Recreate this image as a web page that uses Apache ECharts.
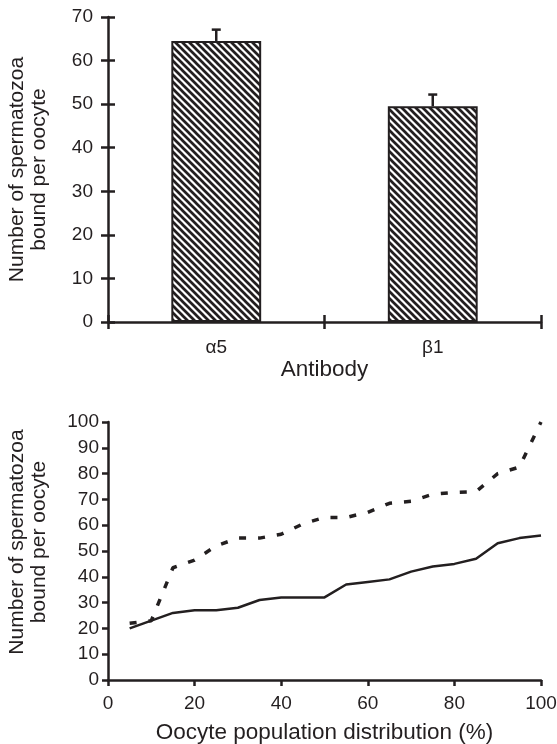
<!DOCTYPE html>
<html>
<head>
<meta charset="utf-8">
<script src="https://cdn.jsdelivr.net/npm/echarts@6/dist/echarts.min.js"></script>
<style>
html,body{margin:0;padding:0;background:#fff;}
#c{width:557px;height:744px;}
</style>
</head>
<body>
<div id="c"></div>
<script>
// ---- data ----
const barCategories = ['α5', 'β1'];
const barValues = [64.5, 49.5];
const barErrors = [2.6, 2.7];

const distPercent = [5,10,15,20,25,30,35,40,45,50,55,60,65,70,75,80,85,90,95,100];
const solidValues = [20,23,26,27,27,28,31,32,32,32,37,38,39,42,44,45,47,53,55,56];
const dashedValues = [22,23,43.5,46.5,52,55,55,56.5,60.5,63,63,65,68.5,69.3,72,72.7,73,80,82.5,100];

const topYTitle = 'Number of spermatozoa\nbound per oocyte';
const topXTitle = 'Antibody';
const botXTitle = 'Oocyte population distribution (%)';

// ---- styles ----
const INK = '#231f20';
const FONT = '"Liberation Sans", Arial, Helvetica, sans-serif';

function hatch() {
  const s = 7;
  const c = document.createElement('canvas');
  c.width = s; c.height = s;
  const g = c.getContext('2d');
  g.fillStyle = '#fff';
  g.fillRect(0, 0, s, s);
  g.strokeStyle = INK;
  g.lineWidth = 2.7;
  g.beginPath();
  for (const o of [-s, 0, s]) {
    g.moveTo(-1 + o, -1);
    g.lineTo(s + 1 + o, s + 1);
  }
  g.stroke();
  return c;
}

const chart = echarts.init(document.getElementById('c'), null, {renderer: 'canvas'});

const axisLine = {show: true, lineStyle: {color: INK, width: 2.5}};
const labelStyle = {color: INK, fontSize: 19, fontFamily: FONT};
const yNameStyle = {color: INK, fontSize: 21, fontFamily: FONT, lineHeight: 22};
const xNameStyle = {color: INK, fontSize: 22.5, fontFamily: FONT};

const option = {
  animation: false,
  backgroundColor: '#fff',
  grid: [
    {left: 108, right: 16, top: 17, height: 305, containLabel: false, outerBoundsMode: 'none'},
    {left: 108, right: 16, top: 422, height: 258, containLabel: false, outerBoundsMode: 'none'}
  ],
  xAxis: [
    {
      gridIndex: 0, type: 'category', data: barCategories, position: 'bottom',
      boundaryGap: true,
      axisLine: axisLine,
      axisTick: {show: true, length: 7, alignWithLabel: false, lineStyle: {color: INK, width: 2.5}},
      axisLabel: Object.assign({margin: 16}, labelStyle),
      splitLine: {show: false},
      name: topXTitle, nameLocation: 'middle', nameGap: 34,
      nameTextStyle: xNameStyle
    },
    {
      gridIndex: 0, type: 'category', data: barCategories, position: 'bottom',
      boundaryGap: true,
      axisLine: {show: false},
      axisTick: {show: true, inside: true, length: 7, alignWithLabel: false, lineStyle: {color: INK, width: 2.5}},
      axisLabel: {show: false},
      splitLine: {show: false}
    },
    {
      gridIndex: 1, type: 'value', min: 0, max: 100, interval: 20, position: 'bottom',
      axisLine: axisLine,
      axisTick: {show: true, length: 6, lineStyle: {color: INK, width: 2.5}},
      axisLabel: Object.assign({margin: 14}, labelStyle),
      splitLine: {show: false},
      name: botXTitle, nameLocation: 'middle', nameGap: 41,
      nameTextStyle: xNameStyle
    }
  ],
  yAxis: [
    {
      gridIndex: 0, type: 'value', min: 0, max: 70, interval: 10, position: 'left',
      axisLine: axisLine,
      axisTick: {show: true, length: 7, lineStyle: {color: INK, width: 2.5}},
      axisLabel: Object.assign({margin: 15}, labelStyle),
      splitLine: {show: false},
      name: topYTitle, nameLocation: 'middle', nameGap: 58, nameRotate: 90,
      nameTextStyle: yNameStyle
    },
    {
      gridIndex: 0, type: 'value', min: 0, max: 70, interval: 10, position: 'left',
      axisLine: {show: false},
      axisTick: {show: true, inside: true, length: 7, lineStyle: {color: INK, width: 2.5}},
      axisLabel: {show: false},
      splitLine: {show: false}
    },
    {
      gridIndex: 1, type: 'value', min: 0, max: 100, interval: 10, position: 'left',
      axisLine: axisLine,
      axisTick: {show: true, length: 6, lineStyle: {color: INK, width: 2.5}},
      axisLabel: Object.assign({margin: 9}, labelStyle),
      splitLine: {show: false},
      name: topYTitle, nameLocation: 'middle', nameGap: 58, nameRotate: 90,
      nameTextStyle: Object.assign({padding: [0, 0, 0, 18]}, yNameStyle)
    }
  ],
  series: [
    {
      type: 'bar', xAxisIndex: 0, yAxisIndex: 0,
      data: barValues,
      barWidth: '41.5%',
      itemStyle: {
        color: {image: hatch(), repetition: 'repeat'},
        borderColor: INK, borderWidth: 2
      },
      z: 2
    },
    {
      type: 'custom', xAxisIndex: 0, yAxisIndex: 0,
      data: barValues.map((v, i) => [i, v, barErrors[i]]),
      encode: {x: 0, y: 1},
      renderItem: function (params, api) {
        const i = api.value(0);
        const v = api.value(1);
        const e = api.value(2);
        const p0 = api.coord([i, v]);
        const p1 = api.coord([i, v + e]);
        const st = {stroke: INK, lineWidth: 2.5};
        return {
          type: 'group',
          children: [
            {type: 'line', shape: {x1: p0[0], y1: p0[1], x2: p1[0], y2: p1[1]}, style: st},
            {type: 'line', shape: {x1: p1[0] - 4.5, y1: p1[1], x2: p1[0] + 4.5, y2: p1[1]}, style: st}
          ]
        };
      },
      z: 3
    },
    {
      type: 'line', xAxisIndex: 2, yAxisIndex: 2,
      data: distPercent.map((x, i) => [x, solidValues[i]]),
      symbol: 'none',
      lineStyle: {color: INK, width: 2.5, type: 'solid'}
    },
    {
      type: 'line', xAxisIndex: 2, yAxisIndex: 2,
      data: distPercent.map((x, i) => [x, dashedValues[i]]),
      symbol: 'none',
      lineStyle: {color: INK, width: 3.5, type: [7, 12]}
    }
  ]
};
chart.setOption(option);
</script>
</body>
</html>
